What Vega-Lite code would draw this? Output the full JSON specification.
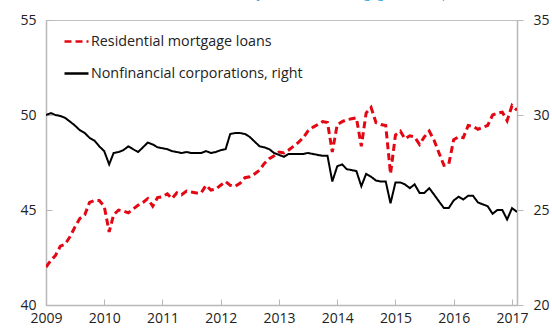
{
  "$schema": "https://vega.github.io/schema/vega-lite/v6.json",
  "width": 471,
  "height": 285,
  "autosize": {"type": "none"},
  "padding": {"left": 46, "top": 20, "right": 35, "bottom": 28},
  "title": {
    "text": "(Annual rate of credit to the real economy and to total mortgage loans in percent, twelve-month rates)",
    "anchor": "start",
    "frame": "group",
    "color": "#29a8e0",
    "font": "Open Sans",
    "fontSize": 12.3,
    "fontWeight": "normal",
    "baseline": "alphabetic",
    "dx": -22,
    "dy": -3,
    "offset": 0,
    "limit": 0
  },
  "config": {
    "font": "Open Sans",
    "view": {"stroke": "#c0c0c0", "strokeWidth": 1},
    "axis": {
      "labelFont": "Open Sans",
      "labelFontSize": 14,
      "labelColor": "#222222",
      "domainColor": "#b8b8b8",
      "domainWidth": 1.5,
      "tickColor": "#b8b8b8",
      "grid": false,
      "title": null
    },
    "legend": {
      "orient": "none",
      "legendX": 17,
      "legendY": 8,
      "title": null,
      "symbolType": "stroke",
      "symbolSize": 576,
      "symbolStrokeWidth": 2.5,
      "labelFont": "Open Sans",
      "labelFontSize": 14.3,
      "labelColor": "#222222",
      "labelOffset": 1,
      "labelLimit": 0,
      "rowPadding": 11,
      "padding": 0
    }
  },
  "datasets": {
    "mortgage": [
      {"date": "2009-01-01", "value": 42.0}, {"date": "2009-02-01", "value": 42.35}, {"date": "2009-03-01", "value": 42.6}, {"date": "2009-04-01", "value": 43.1}, {"date": "2009-05-01", "value": 43.2}, {"date": "2009-06-01", "value": 43.6}, {"date": "2009-07-01", "value": 44.1}, {"date": "2009-08-01", "value": 44.55}, {"date": "2009-09-01", "value": 44.75}, {"date": "2009-10-01", "value": 45.4}, {"date": "2009-11-01", "value": 45.5}, {"date": "2009-12-01", "value": 45.5},
      {"date": "2010-01-01", "value": 45.2}, {"date": "2010-02-01", "value": 43.85}, {"date": "2010-03-01", "value": 44.75}, {"date": "2010-04-01", "value": 45.0}, {"date": "2010-05-01", "value": 44.95}, {"date": "2010-06-01", "value": 44.85}, {"date": "2010-07-01", "value": 45.05}, {"date": "2010-08-01", "value": 45.25}, {"date": "2010-09-01", "value": 45.4}, {"date": "2010-10-01", "value": 45.6}, {"date": "2010-11-01", "value": 45.2}, {"date": "2010-12-01", "value": 45.65},
      {"date": "2011-01-01", "value": 45.7}, {"date": "2011-02-01", "value": 45.85}, {"date": "2011-03-01", "value": 45.6}, {"date": "2011-04-01", "value": 45.9}, {"date": "2011-05-01", "value": 45.8}, {"date": "2011-06-01", "value": 46.0}, {"date": "2011-07-01", "value": 45.95}, {"date": "2011-08-01", "value": 45.9}, {"date": "2011-09-01", "value": 45.9}, {"date": "2011-10-01", "value": 46.3}, {"date": "2011-11-01", "value": 46.05}, {"date": "2011-12-01", "value": 46.1},
      {"date": "2012-01-01", "value": 46.3}, {"date": "2012-02-01", "value": 46.5}, {"date": "2012-03-01", "value": 46.3}, {"date": "2012-04-01", "value": 46.25}, {"date": "2012-05-01", "value": 46.4}, {"date": "2012-06-01", "value": 46.7}, {"date": "2012-07-01", "value": 46.75}, {"date": "2012-08-01", "value": 46.9}, {"date": "2012-09-01", "value": 47.1}, {"date": "2012-10-01", "value": 47.45}, {"date": "2012-11-01", "value": 47.7}, {"date": "2012-12-01", "value": 47.85},
      {"date": "2013-01-01", "value": 48.05}, {"date": "2013-02-01", "value": 48.0}, {"date": "2013-03-01", "value": 48.15}, {"date": "2013-04-01", "value": 48.35}, {"date": "2013-05-01", "value": 48.55}, {"date": "2013-06-01", "value": 48.8}, {"date": "2013-07-01", "value": 49.15}, {"date": "2013-08-01", "value": 49.35}, {"date": "2013-09-01", "value": 49.5}, {"date": "2013-10-01", "value": 49.65}, {"date": "2013-11-01", "value": 49.6}, {"date": "2013-12-01", "value": 48.05},
      {"date": "2014-01-01", "value": 49.5}, {"date": "2014-02-01", "value": 49.65}, {"date": "2014-03-01", "value": 49.75}, {"date": "2014-04-01", "value": 49.8}, {"date": "2014-05-01", "value": 49.85}, {"date": "2014-06-01", "value": 48.35}, {"date": "2014-07-01", "value": 50.1}, {"date": "2014-08-01", "value": 50.4}, {"date": "2014-09-01", "value": 49.6}, {"date": "2014-10-01", "value": 49.5}, {"date": "2014-11-01", "value": 49.45}, {"date": "2014-12-01", "value": 46.9},
      {"date": "2015-01-01", "value": 48.95}, {"date": "2015-02-01", "value": 49.15}, {"date": "2015-03-01", "value": 48.75}, {"date": "2015-04-01", "value": 48.9}, {"date": "2015-05-01", "value": 48.85}, {"date": "2015-06-01", "value": 48.45}, {"date": "2015-07-01", "value": 48.85}, {"date": "2015-08-01", "value": 49.15}, {"date": "2015-09-01", "value": 48.65}, {"date": "2015-10-01", "value": 48.0}, {"date": "2015-11-01", "value": 47.35}, {"date": "2015-12-01", "value": 47.4},
      {"date": "2016-01-01", "value": 48.7}, {"date": "2016-02-01", "value": 48.85}, {"date": "2016-03-01", "value": 48.8}, {"date": "2016-04-01", "value": 49.45}, {"date": "2016-05-01", "value": 49.4}, {"date": "2016-06-01", "value": 49.25}, {"date": "2016-07-01", "value": 49.35}, {"date": "2016-08-01", "value": 49.45}, {"date": "2016-09-01", "value": 50.0}, {"date": "2016-10-01", "value": 50.1}, {"date": "2016-11-01", "value": 50.15}, {"date": "2016-12-01", "value": 49.7},
      {"date": "2017-01-01", "value": 50.5}, {"date": "2017-02-01", "value": 50.25}
    ],
    "corp": [
      {"date": "2009-01-01", "value": 30.0}, {"date": "2009-02-01", "value": 30.1}, {"date": "2009-03-01", "value": 30.0}, {"date": "2009-04-01", "value": 29.95}, {"date": "2009-05-01", "value": 29.85}, {"date": "2009-06-01", "value": 29.65}, {"date": "2009-07-01", "value": 29.45}, {"date": "2009-08-01", "value": 29.2}, {"date": "2009-09-01", "value": 29.05}, {"date": "2009-10-01", "value": 28.8}, {"date": "2009-11-01", "value": 28.65}, {"date": "2009-12-01", "value": 28.35},
      {"date": "2010-01-01", "value": 28.1}, {"date": "2010-02-01", "value": 27.4}, {"date": "2010-03-01", "value": 28.0}, {"date": "2010-04-01", "value": 28.05}, {"date": "2010-05-01", "value": 28.15}, {"date": "2010-06-01", "value": 28.35}, {"date": "2010-07-01", "value": 28.2}, {"date": "2010-08-01", "value": 28.05}, {"date": "2010-09-01", "value": 28.3}, {"date": "2010-10-01", "value": 28.55}, {"date": "2010-11-01", "value": 28.45}, {"date": "2010-12-01", "value": 28.3},
      {"date": "2011-01-01", "value": 28.25}, {"date": "2011-02-01", "value": 28.2}, {"date": "2011-03-01", "value": 28.1}, {"date": "2011-04-01", "value": 28.05}, {"date": "2011-05-01", "value": 28.0}, {"date": "2011-06-01", "value": 28.05}, {"date": "2011-07-01", "value": 28.0}, {"date": "2011-08-01", "value": 28.0}, {"date": "2011-09-01", "value": 28.0}, {"date": "2011-10-01", "value": 28.1}, {"date": "2011-11-01", "value": 28.0}, {"date": "2011-12-01", "value": 28.05},
      {"date": "2012-01-01", "value": 28.15}, {"date": "2012-02-01", "value": 28.2}, {"date": "2012-03-01", "value": 29.0}, {"date": "2012-04-01", "value": 29.05}, {"date": "2012-05-01", "value": 29.05}, {"date": "2012-06-01", "value": 29.0}, {"date": "2012-07-01", "value": 28.85}, {"date": "2012-08-01", "value": 28.6}, {"date": "2012-09-01", "value": 28.35}, {"date": "2012-10-01", "value": 28.3}, {"date": "2012-11-01", "value": 28.2}, {"date": "2012-12-01", "value": 28.0},
      {"date": "2013-01-01", "value": 27.9}, {"date": "2013-02-01", "value": 27.8}, {"date": "2013-03-01", "value": 27.95}, {"date": "2013-04-01", "value": 27.95}, {"date": "2013-05-01", "value": 27.95}, {"date": "2013-06-01", "value": 27.95}, {"date": "2013-07-01", "value": 28.0}, {"date": "2013-08-01", "value": 27.95}, {"date": "2013-09-01", "value": 27.9}, {"date": "2013-10-01", "value": 27.85}, {"date": "2013-11-01", "value": 27.85}, {"date": "2013-12-01", "value": 26.5},
      {"date": "2014-01-01", "value": 27.3}, {"date": "2014-02-01", "value": 27.4}, {"date": "2014-03-01", "value": 27.15}, {"date": "2014-04-01", "value": 27.1}, {"date": "2014-05-01", "value": 27.05}, {"date": "2014-06-01", "value": 26.25}, {"date": "2014-07-01", "value": 26.9}, {"date": "2014-08-01", "value": 26.75}, {"date": "2014-09-01", "value": 26.55}, {"date": "2014-10-01", "value": 26.5}, {"date": "2014-11-01", "value": 26.5}, {"date": "2014-12-01", "value": 25.35},
      {"date": "2015-01-01", "value": 26.45}, {"date": "2015-02-01", "value": 26.45}, {"date": "2015-03-01", "value": 26.35}, {"date": "2015-04-01", "value": 26.15}, {"date": "2015-05-01", "value": 26.35}, {"date": "2015-06-01", "value": 25.9}, {"date": "2015-07-01", "value": 25.9}, {"date": "2015-08-01", "value": 26.15}, {"date": "2015-09-01", "value": 25.8}, {"date": "2015-10-01", "value": 25.45}, {"date": "2015-11-01", "value": 25.1}, {"date": "2015-12-01", "value": 25.1},
      {"date": "2016-01-01", "value": 25.5}, {"date": "2016-02-01", "value": 25.7}, {"date": "2016-03-01", "value": 25.55}, {"date": "2016-04-01", "value": 25.75}, {"date": "2016-05-01", "value": 25.75}, {"date": "2016-06-01", "value": 25.4}, {"date": "2016-07-01", "value": 25.3}, {"date": "2016-08-01", "value": 25.2}, {"date": "2016-09-01", "value": 24.8}, {"date": "2016-10-01", "value": 25.0}, {"date": "2016-11-01", "value": 25.0}, {"date": "2016-12-01", "value": 24.5},
      {"date": "2017-01-01", "value": 25.1}, {"date": "2017-02-01", "value": 24.9}
    ]
  },
  "layer": [
    {
      "data": {"name": "mortgage"},
      "mark": {"type": "line", "strokeWidth": 3, "clip": true},
      "encoding": {
        "x": {
          "field": "date", "type": "temporal",
          "scale": {"type": "utc", "domain": [{"year": 2009, "month": 1, "date": 1, "utc": true}, {"year": 2017, "month": 2, "date": 1, "utc": true}]},
          "axis": {
            "values": [
              {"year": 2009, "month": 1, "date": 1, "utc": true}, {"year": 2010, "month": 1, "date": 1, "utc": true}, {"year": 2011, "month": 1, "date": 1, "utc": true}, {"year": 2012, "month": 1, "date": 1, "utc": true}, {"year": 2013, "month": 1, "date": 1, "utc": true}, {"year": 2014, "month": 1, "date": 1, "utc": true}, {"year": 2015, "month": 1, "date": 1, "utc": true}, {"year": 2016, "month": 1, "date": 1, "utc": true}, {"year": 2017, "month": 1, "date": 1, "utc": true}
            ],
            "format": "%Y",
            "tickSize": -6,
            "labelPadding": 12,
            "labelFlush": false,
            "labelOverlap": false
          }
        },
        "y": {
          "field": "value", "type": "quantitative",
          "scale": {"domain": [40, 55], "nice": false, "zero": false},
          "axis": {"orient": "left", "values": [40, 45, 50, 55], "tickSize": -6, "labelPadding": 16}
        },
        "color": {
          "datum": "Residential mortgage loans",
          "scale": {"domain": ["Residential mortgage loans", "Nonfinancial corporations, right"], "range": ["#e30613", "#000000"]}
        },
        "strokeDash": {
          "datum": "Residential mortgage loans",
          "scale": {"domain": ["Residential mortgage loans", "Nonfinancial corporations, right"], "range": [[7, 4], [1, 0]]}
        }
      }
    },
    {
      "data": {"name": "corp"},
      "mark": {"type": "line", "strokeWidth": 2, "clip": true},
      "encoding": {
        "x": {"field": "date", "type": "temporal"},
        "y": {
          "field": "value", "type": "quantitative",
          "scale": {"domain": [20, 35], "nice": false, "zero": false},
          "axis": {"orient": "right", "values": [20, 25, 30, 35], "tickSize": 6, "labelPadding": 10}
        },
        "color": {"datum": "Nonfinancial corporations, right"},
        "strokeDash": {"datum": "Nonfinancial corporations, right"}
      }
    }
  ],
  "resolve": {"scale": {"y": "independent"}}
}
